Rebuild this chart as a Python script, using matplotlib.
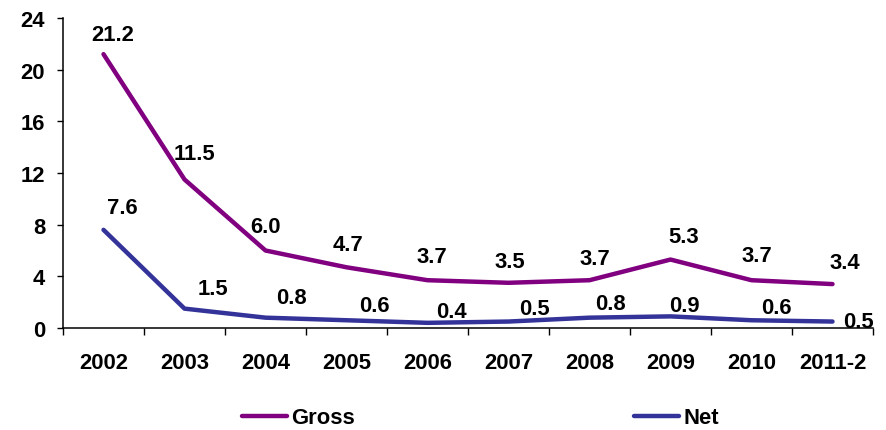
import matplotlib
matplotlib.use("Agg")
import matplotlib.pyplot as plt
import numpy as np

# Chart data
years = ["2002", "2003", "2004", "2005", "2006", "2007", "2008", "2009", "2010", "2011-2"]
gross = [21.2, 11.5, 6.0, 4.7, 3.7, 3.5, 3.7, 5.3, 3.7, 3.4]
net = [7.6, 1.5, 0.8, 0.6, 0.4, 0.5, 0.8, 0.9, 0.6, 0.5]
y_ticks = [0, 4, 8, 12, 16, 20, 24]

# Label placement offsets (pixels) relative to each point
gross_off = [(9, 20), (10, 26), (0, 24), (1, 23), (4, 24), (1, 21), (5, 22), (13, 23), (5, 25), (12, 22)]
net_off = [(19, 22), (28, 20), (26, 20), (28, 15), (24, 11), (26, 13), (21, 14), (14, 11), (25, 13), (26, 0)]

GROSS_C = "#800080"
NET_C = "#333399"
FONT = "Liberation Sans"
FS = 15.8

plt.rcParams["font.family"] = [FONT, "DejaVu Sans"]
plt.rcParams["font.weight"] = "bold"

W, H = 886, 431
fig = plt.figure(figsize=(W / 100, H / 100), dpi=100)
ax = fig.add_axes([63 / W, (H - 329) / H, 810 / W, 310 / H])

x = np.arange(len(years))
l1, = ax.plot(x, gross, color=GROSS_C, lw=3.2, solid_joinstyle="round", solid_capstyle="round", label="Gross")
l2, = ax.plot(x, net, color=NET_C, lw=3.2, solid_joinstyle="round", solid_capstyle="round", label="Net")

for xi, v, (dx, dy) in zip(x, gross, gross_off):
    ax.annotate(f"{v:.1f}", (xi, v), xytext=(dx, dy), textcoords="offset pixels",
                ha="center", va="center", fontsize=FS, fontweight="bold", annotation_clip=False)
for xi, v, (dx, dy) in zip(x, net, net_off):
    ax.annotate(f"{v:.1f}", (xi, v), xytext=(dx, dy), textcoords="offset pixels",
                ha="center", va="center", fontsize=FS, fontweight="bold", annotation_clip=False)

ax.set_xlim(-0.5, len(years) - 0.5)
ax.set_ylim(0, 24)
ax.set_yticks(y_ticks)
ax.set_yticklabels([str(t) for t in y_ticks], fontsize=FS, fontweight="bold")
ax.tick_params(axis="y", direction="out", length=4.3, width=1, pad=8.5)

# category boundaries get tick marks, category centres carry the labels
ax.set_xticks(np.arange(-0.5, len(years), 1.0))
ax.set_xticklabels([])
ax.set_xticks(x, minor=True)
ax.set_xticklabels(years, minor=True, fontsize=FS, fontweight="bold")
ax.tick_params(axis="x", which="major", direction="out", length=5, width=1)
ax.tick_params(axis="x", which="minor", length=0, pad=17)

for s in ["top", "right"]:
    ax.spines[s].set_visible(False)
for s in ["left", "bottom"]:
    ax.spines[s].set_linewidth(1.1)
    ax.spines[s].set_color("black")

fig.legend(handles=[l1, l2], loc="center left", bbox_to_anchor=(242 / W, 1 - 419 / H),
           bbox_transform=fig.transFigure, ncol=2, frameon=False, borderpad=0,
           borderaxespad=0, handlelength=2.05, handletextpad=0.2, columnspacing=12.7,
           prop={"family": FONT, "weight": "bold", "size": FS})

fig.savefig("out.png", dpi=100)
